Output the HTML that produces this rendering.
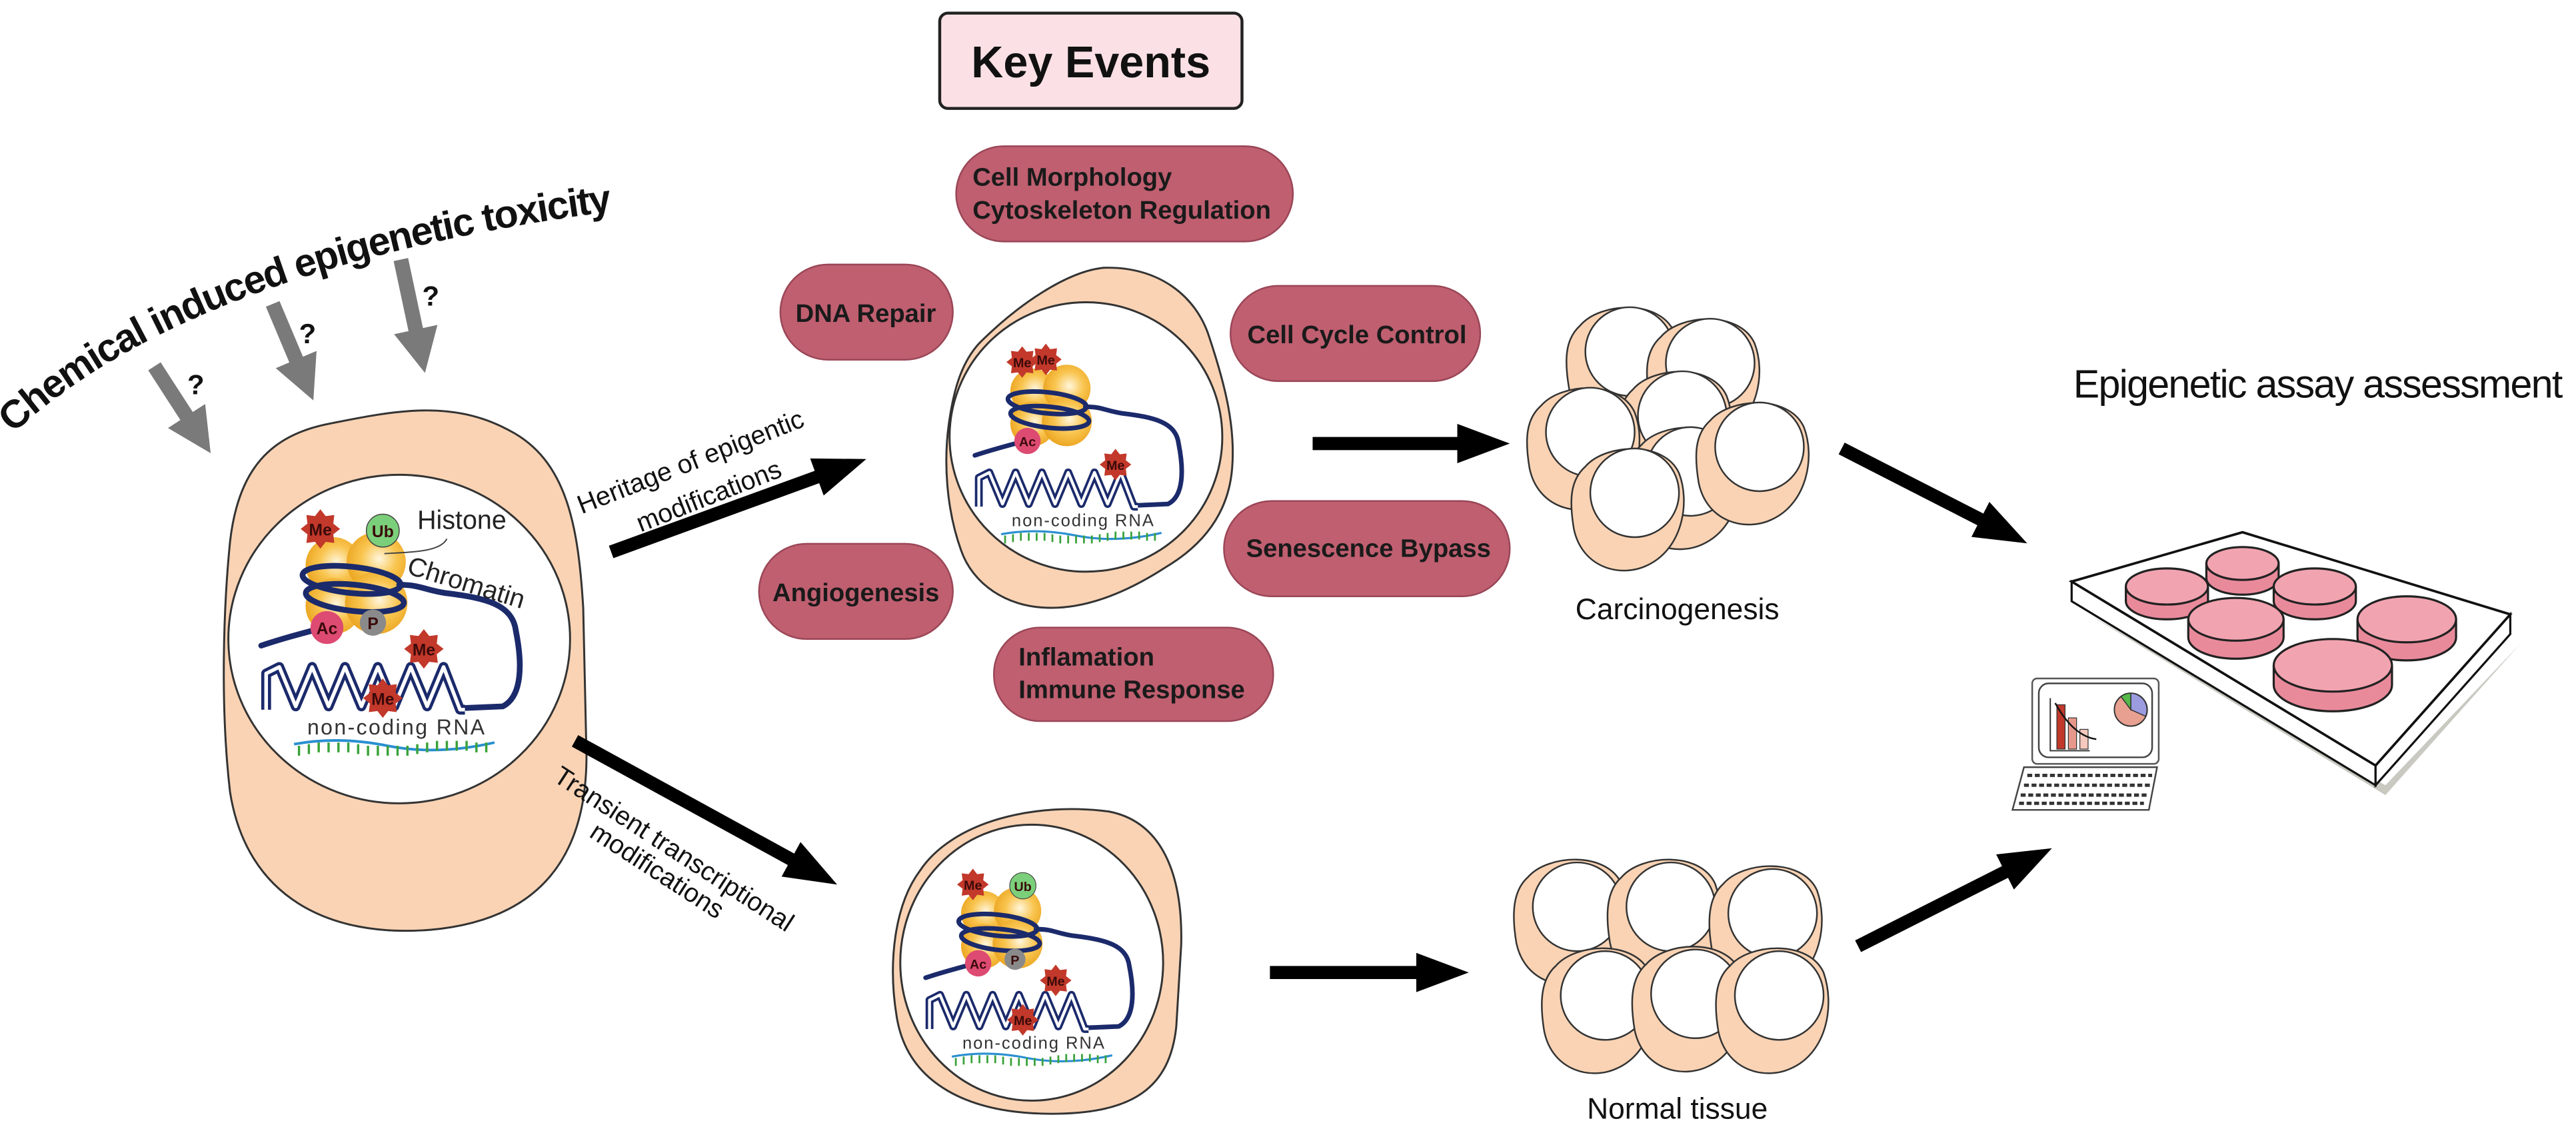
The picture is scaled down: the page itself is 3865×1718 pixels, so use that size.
<!DOCTYPE html>
<html><head><meta charset="utf-8"><style>
html,body{margin:0;padding:0;background:#fff;}
svg{display:block;}
text{font-family:"Liberation Sans",Arial,sans-serif;}
</style></head><body>
<svg width="3865" height="1718" viewBox="0 0 1568 697" preserveAspectRatio="none" xmlns="http://www.w3.org/2000/svg">
<defs>
<radialGradient id="sph" cx="0.55" cy="0.45" r="0.6"><stop offset="0" stop-color="#fff6dc"/><stop offset="0.5" stop-color="#f9c550"/><stop offset="1" stop-color="#eaa21c"/></radialGradient>
<marker id="ah" markerWidth="4" markerHeight="3" refX="0.5" refY="1.5" orient="auto" markerUnits="strokeWidth"><path d="M0,0 L4,1.5 L0,3Z" fill="#000"/></marker>
<marker id="gh" markerWidth="3" markerHeight="3" refX="0.5" refY="1.5" orient="auto" markerUnits="strokeWidth"><path d="M0,0 L3,1.5 L0,3Z" fill="#7a7a7a"/></marker>
</defs>
<rect width="1568" height="697" fill="#fff"/>

<!-- Title -->
<path id="tp" d="M8,264 Q120,160 385,127" fill="none"/>
<text font-size="24" font-weight="bold" fill="#111"><textPath href="#tp" textLength="395">Chemical induced epigenetic toxicity</textPath></text>

<!-- grey arrows -->
<g stroke="#7a7a7a" stroke-width="9" marker-end="url(#gh)">
<line x1="94" y1="223" x2="116" y2="257"/>
<line x1="166" y1="185" x2="182" y2="223"/>
<line x1="244" y1="158" x2="254" y2="205"/>
</g>
<g font-size="17" font-weight="bold" fill="#111">
<text x="114" y="240">?</text><text x="182" y="209">?</text><text x="257" y="186">?</text>
</g>

<!-- MAIN CELL -->
<path d="M140,330 C145,285 165,265 200,258 C240,250 275,243 310,262 C345,280 352,320 355,370 L357,460 C357,520 330,560 262,566 C200,571 150,546 140,482 C134,430 136,370 140,330Z" fill="#f9d3b4" stroke="#333" stroke-width="1.2"/>
<ellipse cx="243" cy="389" rx="104" ry="100" fill="#fff" stroke="#333" stroke-width="1.2"/>
<g transform="translate(246,394)">
<circle cx="-43" cy="-50" r="17" fill="url(#sph)"/><circle cx="-17" cy="-52" r="18" fill="url(#sph)"/>
<circle cx="-43" cy="-25" r="17" fill="url(#sph)"/><circle cx="-17" cy="-27" r="19" fill="url(#sph)"/>
<g fill="none" stroke="#1b2a6b" stroke-width="3.5" stroke-linecap="round">
<ellipse cx="-32" cy="-41" rx="30" ry="8" transform="rotate(6 -32 -41)"/>
<ellipse cx="-30" cy="-30" rx="30" ry="8" transform="rotate(6 -30 -30)"/>
<path d="M-3,-38 C10,-38 12,-35 25,-33 C50,-30 66,-26 68,-10 C72,10 72,30 60,36 L37,37"/>
<path d="M-87,-1 C-72,-6 -60,-9 -45,-13"/>
</g>
<path d="M-84,38 L-84,16 L-76,12 L-66,36 L-56,12 L-46,36 L-36,12 L-26,36 L-16,12 L-6,36 L4,12 L14,36 L24,12 L34,38 L37,38" fill="none" stroke="#1b2a6b" stroke-width="6" stroke-linejoin="round"/>
<path d="M-84,38 L-84,16 L-76,12 L-66,36 L-56,12 L-46,36 L-36,12 L-26,36 L-16,12 L-6,36 L4,12 L14,36 L24,12 L34,38 L37,38" fill="none" stroke="#fff" stroke-width="2.2" stroke-linejoin="round"/>
<g font-size="10" font-weight="bold" fill="#3a0a0a" text-anchor="middle">
<polygon transform="translate(-51,-72)" points="0,-12 3.25,-7.85 8.49,-8.49 7.85,-3.25 12,0 7.85,3.25 8.49,8.49 3.25,7.85 0,12 -3.25,7.85 -8.49,8.49 -7.85,3.25 -12,0 -7.85,-3.25 -8.49,-8.49 -3.25,-7.85" fill="#c2382a"/>
<text x="-51" y="-68">Me</text>
<circle cx="-13" cy="-71" r="10" fill="#7ccf7a" stroke="#444" stroke-width="0.6"/><text x="-13" y="-67">Ub</text>
<circle cx="-47" cy="-12" r="10" fill="#dd4a72"/><text x="-47" y="-8">Ac</text>
<circle cx="-19" cy="-15" r="8" fill="#8a8a8a"/><text x="-19" y="-11">P</text>
<polygon transform="translate(12,1)" points="0,-12 3.25,-7.85 8.49,-8.49 7.85,-3.25 12,0 7.85,3.25 8.49,8.49 3.25,7.85 0,12 -3.25,7.85 -8.49,8.49 -7.85,3.25 -12,0 -7.85,-3.25 -8.49,-8.49 -3.25,-7.85" fill="#c2382a"/>
<text x="12" y="5">Me</text>
<polygon transform="translate(-13,31)" points="0,-12 3.25,-7.85 8.49,-8.49 7.85,-3.25 12,0 7.85,3.25 8.49,8.49 3.25,7.85 0,12 -3.25,7.85 -8.49,8.49 -7.85,3.25 -12,0 -7.85,-3.25 -8.49,-8.49 -3.25,-7.85" fill="#c2382a"/>
<text x="-13" y="35">Me</text>
</g>
<text x="-59" y="53" font-size="13" fill="#333" textLength="108">non-coding RNA</text>
<path d="M-67,59 Q-40,54 -10,60 T55,58" fill="none" stroke="#2a8fd0" stroke-width="1.6"/>
<path d="M-64,60v6M-58,59v6M-52,58v6M-46,58v6M-40,58v6M-34,58v6M-28,59v6M-22,60v6M-16,60v6M-10,60v6M-4,60v6M2,60v6M8,59v6M14,58v6M20,57v6M26,57v6M32,57v6M38,57v6M44,58v6M50,58v6" stroke="#3aa23a" stroke-width="1.4"/>
<text x="8" y="-72" font-size="16" fill="#222">Histone</text>
<path d="M26,-66 C22,-58 5,-58 -12,-57" fill="none" stroke="#444" stroke-width="0.8"/>
<text x="1" y="-45" font-size="16" fill="#222" transform="rotate(17 1 -45)">Chromatin</text>
</g>

<!-- MIDDLE TOP CELL -->
<path d="M596,209 C620,185 650,165 672,163 C705,162 728,180 736,205 C746,235 752,260 750,285 C748,310 735,330 710,345 C690,358 665,370 640,370 C612,370 592,355 585,335 C576,310 574,280 578,255 C581,235 586,220 596,209Z" fill="#f9d3b4" stroke="#333" stroke-width="1.2"/>
<ellipse cx="661" cy="266" rx="83" ry="82" fill="#fff" stroke="#333" stroke-width="1.2"/>
<g transform="translate(663,278) scale(0.8)">
<circle cx="-43" cy="-50" r="17" fill="url(#sph)"/><circle cx="-17" cy="-52" r="18" fill="url(#sph)"/>
<circle cx="-43" cy="-25" r="17" fill="url(#sph)"/><circle cx="-17" cy="-27" r="19" fill="url(#sph)"/>
<g fill="none" stroke="#1b2a6b" stroke-width="3.5" stroke-linecap="round">
<ellipse cx="-32" cy="-41" rx="30" ry="8" transform="rotate(6 -32 -41)"/>
<ellipse cx="-30" cy="-30" rx="30" ry="8" transform="rotate(6 -30 -30)"/>
<path d="M-3,-38 C10,-38 12,-35 25,-33 C50,-30 66,-26 68,-10 C72,10 72,30 60,36 L37,37"/>
<path d="M-87,-1 C-72,-6 -60,-9 -45,-13"/>
</g>
<path d="M-84,38 L-84,16 L-76,12 L-66,36 L-56,12 L-46,36 L-36,12 L-26,36 L-16,12 L-6,36 L4,12 L14,36 L24,12 L34,38 L37,38" fill="none" stroke="#1b2a6b" stroke-width="6" stroke-linejoin="round"/>
<path d="M-84,38 L-84,16 L-76,12 L-66,36 L-56,12 L-46,36 L-36,12 L-26,36 L-16,12 L-6,36 L4,12 L14,36 L24,12 L34,38 L37,38" fill="none" stroke="#fff" stroke-width="2.2" stroke-linejoin="round"/>
<g font-size="10" font-weight="bold" fill="#3a0a0a" text-anchor="middle">
<polygon transform="translate(-51,-72)" points="0,-12 3.25,-7.85 8.49,-8.49 7.85,-3.25 12,0 7.85,3.25 8.49,8.49 3.25,7.85 0,12 -3.25,7.85 -8.49,8.49 -7.85,3.25 -12,0 -7.85,-3.25 -8.49,-8.49 -3.25,-7.85" fill="#c2382a"/>
<text x="-51" y="-68">Me</text>
<polygon transform="translate(-33,-74)" points="0,-12 3.25,-7.85 8.49,-8.49 7.85,-3.25 12,0 7.85,3.25 8.49,8.49 3.25,7.85 0,12 -3.25,7.85 -8.49,8.49 -7.85,3.25 -12,0 -7.85,-3.25 -8.49,-8.49 -3.25,-7.85" fill="#c2382a"/>
<text x="-33" y="-70">Me</text>
<circle cx="-47" cy="-12" r="10" fill="#dd4a72"/><text x="-47" y="-8">Ac</text>
<polygon transform="translate(20,6)" points="0,-12 3.25,-7.85 8.49,-8.49 7.85,-3.25 12,0 7.85,3.25 8.49,8.49 3.25,7.85 0,12 -3.25,7.85 -8.49,8.49 -7.85,3.25 -12,0 -7.85,-3.25 -8.49,-8.49 -3.25,-7.85" fill="#c2382a"/>
<text x="20" y="10">Me</text>
</g>
<text x="-59" y="53" font-size="13" fill="#333" textLength="108">non-coding RNA</text>
<path d="M-67,59 Q-40,54 -10,60 T55,58" fill="none" stroke="#2a8fd0" stroke-width="1.6"/>
<path d="M-64,60v6M-58,59v6M-52,58v6M-46,58v6M-40,58v6M-34,58v6M-28,59v6M-22,60v6M-16,60v6M-10,60v6M-4,60v6M2,60v6M8,59v6M14,58v6M20,57v6M26,57v6M32,57v6M38,57v6M44,58v6M50,58v6" stroke="#3aa23a" stroke-width="1.4"/>
</g>

<!-- BOTTOM CELL -->
<path d="M560,530 C580,500 630,488 675,494 C706,500 720,530 719,575 L716,625 C712,662 690,678 640,678 C590,678 553,660 546,620 C540,585 545,550 560,530Z" fill="#f9d3b4" stroke="#333" stroke-width="1.2"/>
<ellipse cx="628" cy="586" rx="80" ry="84" fill="#fff" stroke="#333" stroke-width="1.2"/>
<g transform="translate(633,596) scale(0.8)">
<circle cx="-43" cy="-50" r="17" fill="url(#sph)"/><circle cx="-17" cy="-52" r="18" fill="url(#sph)"/>
<circle cx="-43" cy="-25" r="17" fill="url(#sph)"/><circle cx="-17" cy="-27" r="19" fill="url(#sph)"/>
<g fill="none" stroke="#1b2a6b" stroke-width="3.5" stroke-linecap="round">
<ellipse cx="-32" cy="-41" rx="30" ry="8" transform="rotate(6 -32 -41)"/>
<ellipse cx="-30" cy="-30" rx="30" ry="8" transform="rotate(6 -30 -30)"/>
<path d="M-3,-38 C10,-38 12,-35 25,-33 C50,-30 66,-26 68,-10 C72,10 72,30 60,36 L37,37"/>
<path d="M-87,-1 C-72,-6 -60,-9 -45,-13"/>
</g>
<path d="M-84,38 L-84,16 L-76,12 L-66,36 L-56,12 L-46,36 L-36,12 L-26,36 L-16,12 L-6,36 L4,12 L14,36 L24,12 L34,38 L37,38" fill="none" stroke="#1b2a6b" stroke-width="6" stroke-linejoin="round"/>
<path d="M-84,38 L-84,16 L-76,12 L-66,36 L-56,12 L-46,36 L-36,12 L-26,36 L-16,12 L-6,36 L4,12 L14,36 L24,12 L34,38 L37,38" fill="none" stroke="#fff" stroke-width="2.2" stroke-linejoin="round"/>
<g font-size="10" font-weight="bold" fill="#3a0a0a" text-anchor="middle">
<polygon transform="translate(-51,-72)" points="0,-12 3.25,-7.85 8.49,-8.49 7.85,-3.25 12,0 7.85,3.25 8.49,8.49 3.25,7.85 0,12 -3.25,7.85 -8.49,8.49 -7.85,3.25 -12,0 -7.85,-3.25 -8.49,-8.49 -3.25,-7.85" fill="#c2382a"/>
<text x="-51" y="-68">Me</text>
<circle cx="-13" cy="-71" r="10" fill="#7ccf7a" stroke="#444" stroke-width="0.6"/><text x="-13" y="-67">Ub</text>
<circle cx="-47" cy="-12" r="10" fill="#dd4a72"/><text x="-47" y="-8">Ac</text>
<circle cx="-19" cy="-15" r="8" fill="#8a8a8a"/><text x="-19" y="-11">P</text>
<polygon transform="translate(12,1)" points="0,-12 3.25,-7.85 8.49,-8.49 7.85,-3.25 12,0 7.85,3.25 8.49,8.49 3.25,7.85 0,12 -3.25,7.85 -8.49,8.49 -7.85,3.25 -12,0 -7.85,-3.25 -8.49,-8.49 -3.25,-7.85" fill="#c2382a"/>
<text x="12" y="5">Me</text>
<polygon transform="translate(-13,31)" points="0,-12 3.25,-7.85 8.49,-8.49 7.85,-3.25 12,0 7.85,3.25 8.49,8.49 3.25,7.85 0,12 -3.25,7.85 -8.49,8.49 -7.85,3.25 -12,0 -7.85,-3.25 -8.49,-8.49 -3.25,-7.85" fill="#c2382a"/>
<text x="-13" y="35">Me</text>
</g>
<text x="-59" y="53" font-size="13" fill="#333" textLength="108">non-coding RNA</text>
<path d="M-67,59 Q-40,54 -10,60 T55,58" fill="none" stroke="#2a8fd0" stroke-width="1.6"/>
<path d="M-64,60v6M-58,59v6M-52,58v6M-46,58v6M-40,58v6M-34,58v6M-28,59v6M-22,60v6M-16,60v6M-10,60v6M-4,60v6M2,60v6M8,59v6M14,58v6M20,57v6M26,57v6M32,57v6M38,57v6M44,58v6M50,58v6" stroke="#3aa23a" stroke-width="1.4"/>
</g>

<!-- Key events -->
<rect x="572" y="8" width="184" height="58" rx="5" fill="#fbe1e5" stroke="#222" stroke-width="1.8"/>
<text x="664" y="47" font-size="27" font-weight="bold" text-anchor="middle" fill="#111">Key Events</text>

<!-- pills -->
<g fill="#bf5f70" stroke="#9a4657" stroke-width="1">
<rect x="582" y="89" width="205" height="58" rx="29"/>
<rect x="475" y="161" width="105" height="58" rx="29"/>
<rect x="749" y="174" width="152" height="58" rx="29"/>
<rect x="462" y="331" width="118" height="58" rx="29"/>
<rect x="745" y="305" width="174" height="58" rx="29"/>
<rect x="605" y="382" width="170" height="57" rx="28"/>
</g>
<g font-size="15.5" font-weight="bold" fill="#1a1a1a">
<text x="592" y="113">Cell Morphology</text>
<text x="592" y="133">Cytoskeleton Regulation</text>
<text x="527" y="196" text-anchor="middle">DNA Repair</text>
<text x="826" y="209" text-anchor="middle">Cell Cycle Control</text>
<text x="521" y="366" text-anchor="middle">Angiogenesis</text>
<text x="833" y="339" text-anchor="middle">Senescence Bypass</text>
<text x="620" y="405">Inflamation</text>
<text x="620" y="425">Immune Response</text>
</g>

<!-- black arrows -->
<g stroke="#000" stroke-width="8" marker-end="url(#ah)">
<line x1="372" y1="336" x2="501" y2="289"/>
<line x1="350" y1="451" x2="485" y2="525"/>
<line x1="799" y1="270" x2="891" y2="270"/>
<line x1="773" y1="592" x2="866" y2="592"/>
<line x1="1121" y1="273" x2="1209" y2="318"/>
<line x1="1131" y1="576" x2="1224" y2="529"/>
</g>
<g font-size="16" fill="#111">
<text x="354" y="313" transform="rotate(-21.5 354 313)">Heritage of epigentic</text>
<text x="390" y="324" transform="rotate(-21.5 390 324)">modifications</text>
<text x="336" y="475" transform="rotate(33 336 475)">Transient transcriptional</text>
<text x="358" y="509" transform="rotate(33 358 509)">modifications</text>
</g>

<!-- carcinogenesis cluster -->
<g stroke="#333" stroke-width="1">
<g transform="translate(992,214)"><path d="M-26,-22 C-14,-36 22,-38 31,-18 C38,0 33,28 12,38 C-4,46 -28,40 -33,16 C-36,-2 -35,-14 -26,-22Z" transform="translate(-4,6)" fill="#f9d3b4"/><circle cx="0" cy="0" r="27" fill="#fff"/></g>
<g transform="translate(1041,221)"><path d="M-26,-22 C-14,-36 22,-38 31,-18 C38,0 33,28 12,38 C-4,46 -28,40 -33,16 C-36,-2 -35,-14 -26,-22Z" transform="translate(-4,6)" fill="#f9d3b4"/><circle cx="0" cy="0" r="27" fill="#fff"/></g>
<g transform="translate(1024,253)"><path d="M-26,-22 C-14,-36 22,-38 31,-18 C38,0 33,28 12,38 C-4,46 -28,40 -33,16 C-36,-2 -35,-14 -26,-22Z" transform="translate(-4,6)" fill="#f9d3b4"/><circle cx="0" cy="0" r="27" fill="#fff"/></g>
<g transform="translate(968,263)"><path d="M-26,-22 C-14,-36 22,-38 31,-18 C38,0 33,28 12,38 C-4,46 -28,40 -33,16 C-36,-2 -35,-14 -26,-22Z" transform="translate(-4,6)" fill="#f9d3b4"/><circle cx="0" cy="0" r="27" fill="#fff"/></g>
<g transform="translate(1029,287)"><path d="M-26,-22 C-14,-36 22,-38 31,-18 C38,0 33,28 12,38 C-4,46 -28,40 -33,16 C-36,-2 -35,-14 -26,-22Z" transform="translate(-4,6)" fill="#f9d3b4"/><circle cx="0" cy="0" r="27" fill="#fff"/></g>
<g transform="translate(1071,272)"><path d="M-26,-22 C-14,-36 22,-38 31,-18 C38,0 33,28 12,38 C-4,46 -28,40 -33,16 C-36,-2 -35,-14 -26,-22Z" transform="translate(-4,6)" fill="#f9d3b4"/><circle cx="0" cy="0" r="27" fill="#fff"/></g>
<g transform="translate(995,300)"><path d="M-26,-22 C-14,-36 22,-38 31,-18 C38,0 33,28 12,38 C-4,46 -28,40 -33,16 C-36,-2 -35,-14 -26,-22Z" transform="translate(-4,6)" fill="#f9d3b4"/><circle cx="0" cy="0" r="27" fill="#fff"/></g>
</g>
<text x="1021" y="377" font-size="18" text-anchor="middle" fill="#111">Carcinogenesis</text>

<!-- normal tissue -->
<g stroke="#333" stroke-width="1">
<g transform="translate(960,552)"><path d="M-26,-24 C-14,-38 22,-40 31,-20 C38,0 33,28 12,38 C-4,46 -28,40 -33,16 C-36,-2 -35,-16 -26,-24Z" transform="translate(-4,6)" fill="#f9d3b4"/><circle cx="0" cy="0" r="27" fill="#fff"/></g>
<g transform="translate(1017,552)"><path d="M-26,-24 C-14,-38 22,-40 31,-20 C38,0 33,28 12,38 C-4,46 -28,40 -33,16 C-36,-2 -35,-16 -26,-24Z" transform="translate(-4,6)" fill="#f9d3b4"/><circle cx="0" cy="0" r="27" fill="#fff"/></g>
<g transform="translate(1079,556)"><path d="M-26,-24 C-14,-38 22,-40 31,-20 C38,0 33,28 12,38 C-4,46 -28,40 -33,16 C-36,-2 -35,-16 -26,-24Z" transform="translate(-4,6)" fill="#f9d3b4"/><circle cx="0" cy="0" r="27" fill="#fff"/></g>
<g transform="translate(977,606)"><path d="M-26,-24 C-14,-38 22,-40 31,-20 C38,0 33,28 12,38 C-4,46 -28,40 -33,16 C-36,-2 -35,-16 -26,-24Z" transform="translate(-4,6)" fill="#f9d3b4"/><circle cx="0" cy="0" r="27" fill="#fff"/></g>
<g transform="translate(1032,605)"><path d="M-26,-24 C-14,-38 22,-40 31,-20 C38,0 33,28 12,38 C-4,46 -28,40 -33,16 C-36,-2 -35,-16 -26,-24Z" transform="translate(-4,6)" fill="#f9d3b4"/><circle cx="0" cy="0" r="27" fill="#fff"/></g>
<g transform="translate(1083,606)"><path d="M-26,-24 C-14,-38 22,-40 31,-20 C38,0 33,28 12,38 C-4,46 -28,40 -33,16 C-36,-2 -35,-16 -26,-24Z" transform="translate(-4,6)" fill="#f9d3b4"/><circle cx="0" cy="0" r="27" fill="#fff"/></g>
</g>
<text x="1021" y="681" font-size="18" text-anchor="middle" fill="#111">Normal tissue</text>

<!-- assay -->
<text x="1262" y="242" font-size="24" fill="#111" textLength="298">Epigenetic assay assessment</text>
<polygon points="1268,372 1452,484 1534,392 1452,478" fill="#c9c9c2"/>
<polygon points="1261,354 1446,466 1446,478 1261,366" fill="#fff" stroke="#111" stroke-width="1.3"/>
<polygon points="1446,466 1528,374 1528,386 1446,478" fill="#fff" stroke="#111" stroke-width="1.3"/>
<polygon points="1261,354 1365,324 1528,374 1446,466" fill="#fff" stroke="#111" stroke-width="1.5"/>
<g stroke="#222" stroke-width="1.3">
<g transform="translate(1365,343)"><path d="M-22,0 v9 a22,10 0 0 0 44,0 v-9" fill="#e98a9b"/><ellipse rx="22" ry="10" fill="#f2a3b0"/></g>
<g transform="translate(1319,357)"><path d="M-25,0 v9 a25,11 0 0 0 50,0 v-9" fill="#e98a9b"/><ellipse rx="25" ry="11" fill="#f2a3b0"/></g>
<g transform="translate(1409,357)"><path d="M-25,0 v9 a25,11 0 0 0 50,0 v-9" fill="#e98a9b"/><ellipse rx="25" ry="11" fill="#f2a3b0"/></g>
<g transform="translate(1361,377)"><path d="M-29,0 v11 a29,13 0 0 0 58,0 v-11" fill="#e98a9b"/><ellipse rx="29" ry="13" fill="#f2a3b0"/></g>
<g transform="translate(1465,377)"><path d="M-30,0 v11 a30,14 0 0 0 60,0 v-11" fill="#e98a9b"/><ellipse rx="30" ry="14" fill="#f2a3b0"/></g>
<g transform="translate(1420,405)"><path d="M-36,0 v12 a36,16 0 0 0 72,0 v-12" fill="#e98a9b"/><ellipse rx="36" ry="16" fill="#f2a3b0"/></g>
</g>

<!-- laptop -->
<rect x="1237" y="413" width="77" height="52" rx="3" fill="#fff" stroke="#555" stroke-width="1"/>
<rect x="1241" y="416" width="69" height="45" rx="6" fill="#fff" stroke="#444" stroke-width="1"/>
<g stroke="#333" stroke-width="0.5">
<rect x="1252" y="429" width="5" height="27" fill="#c0392b"/>
<rect x="1259" y="437" width="5" height="19" fill="#e8988a"/>
<rect x="1266" y="444" width="5" height="12" fill="#f5c9bd"/>
</g>
<path d="M1248,425 L1248,457 L1272,457" fill="none" stroke="#333" stroke-width="0.8"/>
<path d="M1251,428 Q1262,448 1276,450" fill="none" stroke="#111" stroke-width="1"/>
<circle cx="1297" cy="432" r="10" fill="#e8a090" stroke="#333" stroke-width="0.8"/>
<path d="M1297,432 L1297,422 A10,10 0 0 1 1306,436Z" fill="#9b9be0" stroke="#333" stroke-width="0.6"/>
<path d="M1297,432 L1291,424 A10,10 0 0 1 1297,422Z" fill="#55b84a" stroke="#333" stroke-width="0.6"/>
<polygon points="1232,467 1313,467 1308,493 1225,493" fill="#fff" stroke="#444" stroke-width="1"/>
<g stroke="#333" stroke-width="2" stroke-dasharray="3,1.6">
<line x1="1234" y1="472" x2="1310" y2="472"/>
<line x1="1232" y1="478" x2="1309" y2="478"/>
<line x1="1230" y1="484" x2="1307" y2="484"/>
<line x1="1229" y1="489" x2="1305" y2="489"/>
</g>
</svg>
</body></html>
